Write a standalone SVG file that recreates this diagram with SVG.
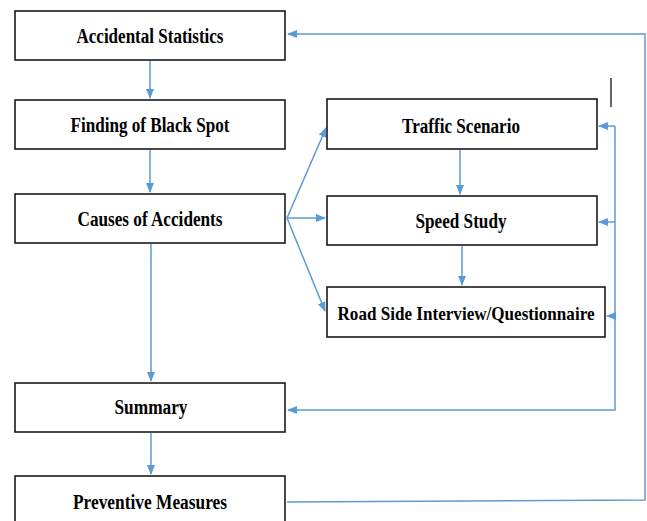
<svg xmlns="http://www.w3.org/2000/svg" width="647" height="521" viewBox="0 0 647 521">
<style>
.box{fill:#fff;stroke:#1a1a1a;stroke-width:1.6}
.t{font-family:"Liberation Serif","Times New Roman",serif;font-weight:bold;font-size:20px;fill:#000;text-anchor:middle}
.c{fill:none;stroke:#5B9BD5;stroke-width:1.5}
</style>
<defs>
<marker id="ah" markerWidth="10" markerHeight="8" refX="9" refY="4" orient="auto" markerUnits="userSpaceOnUse">
<path d="M0,0 L10,4 L0,8 Z" fill="#5B9BD5"/>
</marker>
</defs>
<rect width="647" height="521" fill="#fff"/>
<g id="connectors">
<line class="c" x1="150" y1="61" x2="150" y2="98" marker-end="url(#ah)"/>
<line class="c" x1="150" y1="150" x2="150" y2="192" marker-end="url(#ah)"/>
<line class="c" x1="151" y1="244" x2="151" y2="381" marker-end="url(#ah)"/>
<line class="c" x1="151" y1="433" x2="151" y2="474" marker-end="url(#ah)"/>
<line class="c" x1="460" y1="150" x2="460" y2="194" marker-end="url(#ah)"/>
<line class="c" x1="462" y1="246" x2="462" y2="285" marker-end="url(#ah)"/>
<line class="c" x1="287" y1="218" x2="326" y2="128" marker-end="url(#ah)"/>
<line class="c" x1="287" y1="218" x2="325" y2="218" marker-end="url(#ah)"/>
<line class="c" x1="287" y1="218" x2="325" y2="311" marker-end="url(#ah)"/>
<polyline class="c" points="615,126 615,410 288,410" marker-end="url(#ah)"/>
<line class="c" x1="615" y1="126" x2="599" y2="126" marker-end="url(#ah)"/>
<line class="c" x1="615" y1="222" x2="599" y2="222" marker-end="url(#ah)"/>
<line class="c" x1="615" y1="316" x2="607" y2="316" marker-end="url(#ah)"/>
<polyline class="c" points="287,502 645,500 645,34 288,34" marker-end="url(#ah)"/>
<line x1="611" y1="78" x2="611" y2="107" stroke="#333" stroke-width="1.5"/>
</g>
<g id="accidental-statistics">
<rect class="box" x="15" y="11" width="270" height="49"/>
<text class="t" x="150" y="43" textLength="147" lengthAdjust="spacingAndGlyphs">Accidental Statistics</text>
</g>
<g id="finding-black-spot">
<rect class="box" x="15" y="100" width="270" height="49"/>
<text class="t" x="150" y="132" textLength="159" lengthAdjust="spacingAndGlyphs">Finding of Black Spot</text>
</g>
<g id="causes-of-accidents">
<rect class="box" x="15" y="194" width="270" height="49"/>
<text class="t" x="150" y="226" textLength="145" lengthAdjust="spacingAndGlyphs">Causes of Accidents</text>
</g>
<g id="summary">
<rect class="box" x="15" y="383" width="270" height="49"/>
<text class="t" x="151" y="414" textLength="73" lengthAdjust="spacingAndGlyphs">Summary</text>
</g>
<g id="preventive-measures">
<rect class="box" x="15" y="476" width="270" height="60"/>
<text class="t" x="150" y="509" textLength="154" lengthAdjust="spacingAndGlyphs">Preventive Measures</text>
</g>
<g id="traffic-scenario">
<rect class="box" x="327" y="99" width="270" height="50"/>
<text class="t" x="461" y="133" textLength="118" lengthAdjust="spacingAndGlyphs">Traffic Scenario</text>
</g>
<g id="speed-study">
<rect class="box" x="327" y="196" width="270" height="49"/>
<text class="t" x="461" y="228" textLength="91" lengthAdjust="spacingAndGlyphs">Speed Study</text>
</g>
<g id="road-side-interview">
<rect class="box" x="327" y="287" width="278" height="50"/>
<text class="t" x="466" y="320" style="font-size:19px" textLength="257" lengthAdjust="spacingAndGlyphs">Road Side Interview/Questionnaire</text>
</g>
</svg>
